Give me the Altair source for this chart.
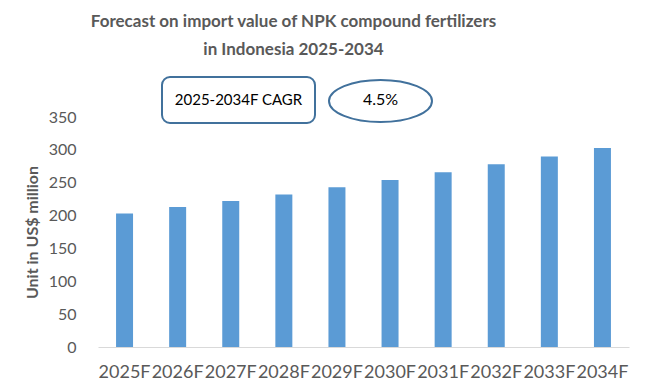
import altair as alt
import pandas as pd

years = ["2025F", "2026F", "2027F", "2028F", "2029F", "2030F", "2031F", "2032F", "2033F", "2034F"]
values = [203, 213, 222, 232, 243, 254, 266, 278, 290, 303]
title_lines = ["Forecast on import value of NPK compound fertilizers", "in Indonesia 2025-2034"]
cagr_label = "2025-2034F CAGR"
cagr_value = "4.5%"
y_ticks = [0, 50, 100, 150, 200, 250, 300, 350]

df = pd.DataFrame({"year": years, "value": values})
one = pd.DataFrame({"k": [0]})

FONT = "Lato"
GRAY = "#595959"
BOX = "#41719C"

bars = alt.Chart(df).mark_bar(color="#5B9BD5").encode(
    x=alt.X("year:N", sort=years, title=None,
            scale=alt.Scale(paddingInner=0.68, paddingOuter=0.34),
            axis=alt.Axis(labelAngle=0, labelFontSize=18, labelColor=GRAY, labelFont=FONT,
                          ticks=False, domainColor="#D9D9D9", domainWidth=1, labelPadding=16)),
    y=alt.Y("value:Q", title="Unit in US$ million",
            scale=alt.Scale(domain=[0, 350], nice=False),
            axis=alt.Axis(values=y_ticks, grid=False, domain=False, ticks=False,
                          labelFontSize=16, labelColor=GRAY, labelFont=FONT, labelPadding=22,
                          titleFont=FONT, titleFontSize=16, titleFontWeight="bold", titleColor=GRAY,
                          titleX=-66, titleY=115, titleBaseline="middle", titleAngle=-90)),
)

box = alt.Chart(one).mark_rect(fill="white", stroke=BOX, strokeWidth=2, cornerRadius=8).encode(
    x=alt.value(64), x2=alt.value(217), y=alt.value(-40), y2=alt.value(6))
box_text = alt.Chart(one).mark_text(font=FONT, fontSize=15, color="black", baseline="middle").encode(
    x=alt.value(140.5), y=alt.value(-17), text=alt.value(cagr_label))

ellipse_path = "M -1 0 A 1 0.41 0 1 0 1 0 A 1 0.41 0 1 0 -1 0 Z"
ell = alt.Chart(one).mark_point(shape=ellipse_path, filled=False, stroke=BOX, strokeWidth=2,
                                 size=103 * 103, opacity=1).encode(
    x=alt.value(282.5), y=alt.value(-16))
ell_text = alt.Chart(one).mark_text(font=FONT, fontSize=16, color="black", baseline="middle").encode(
    x=alt.value(282.5), y=alt.value(-17), text=alt.value(cagr_value))

chart = alt.layer(bars, box, box_text, ell, ell_text).properties(
    width=531, height=230,
    padding={"left": 90, "top": 109, "right": 13, "bottom": 40},
    autosize=alt.AutoSizeParams(type="none"),
    title=alt.TitleParams(text=title_lines, font=FONT, fontSize=17, fontWeight="bold", color=GRAY,
                          lineHeight=28, anchor="middle", dx=-70, offset=17),
).configure_view(stroke=None)

chart.save("out.html", embed_options={"renderer": "svg", "actions": False})
